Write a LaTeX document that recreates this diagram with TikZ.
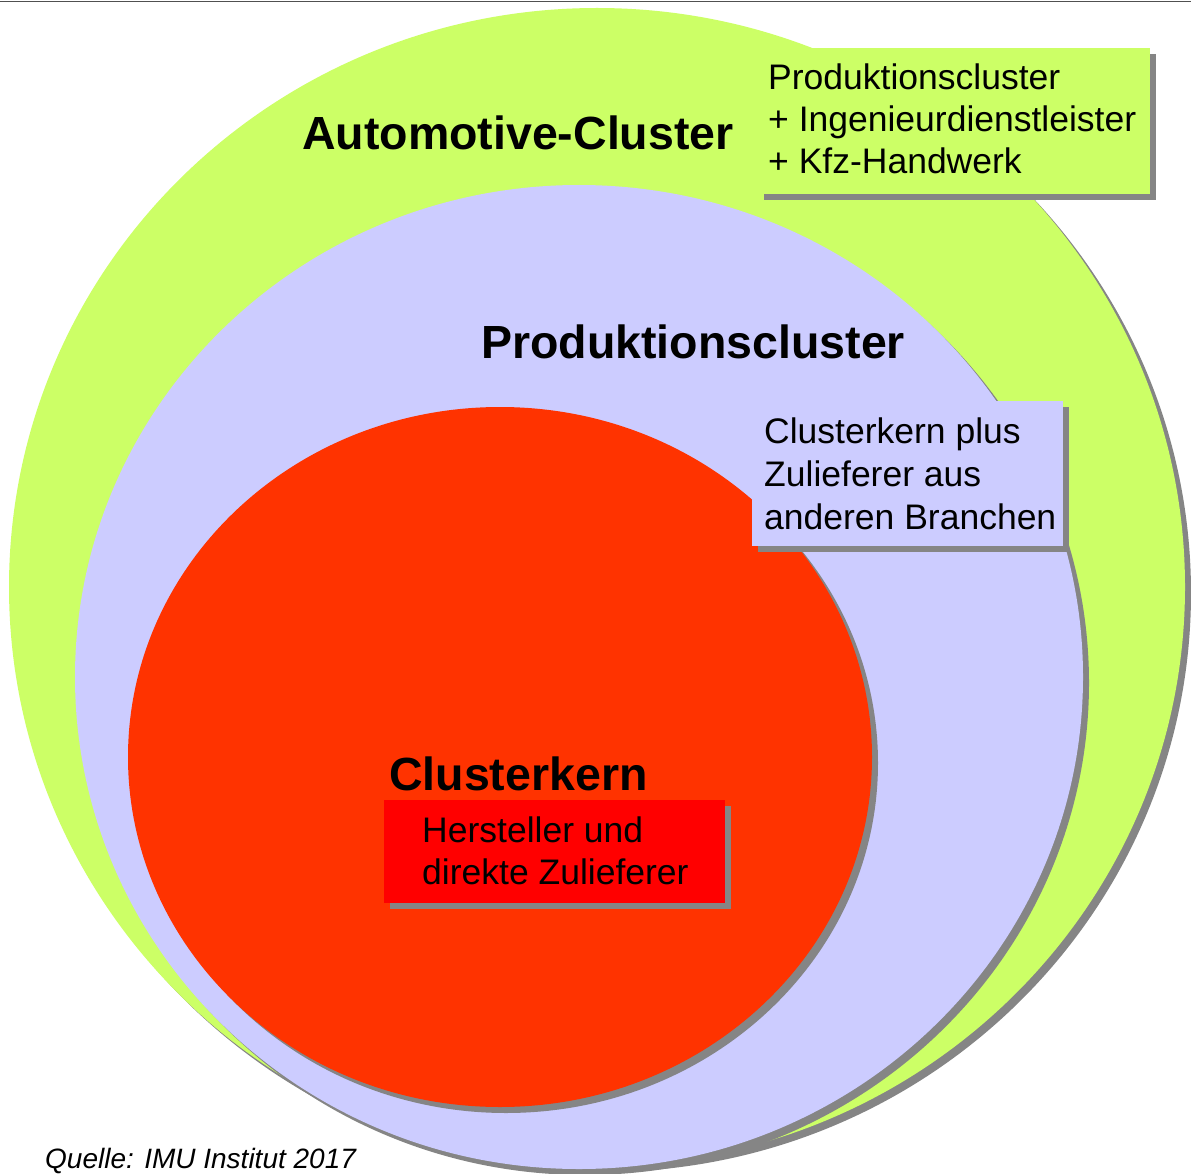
\documentclass[tikz,border=0pt]{standalone}
\usepackage{fontspec}
\setmainfont{Liberation Sans}
\definecolor{cgreen}{HTML}{CCFF66}
\definecolor{clav}{HTML}{CCCCFF}
\definecolor{cred}{HTML}{FF3300}
\definecolor{cbox}{HTML}{FF0000}
\definecolor{cshadow}{HTML}{858585}
\definecolor{cline}{HTML}{505050}
\begin{document}
\begin{tikzpicture}[x=1pt,y=-1pt,
  shadow/.style={fill=cshadow,draw=none},
  txt/.style={anchor=base west,inner sep=0pt,font=\fontsize{35.5}{42.5}\selectfont},
  title/.style={anchor=base west,inner sep=0pt,font=\fontsize{46.5}{50}\selectfont\bfseries},
  src/.style={anchor=base west,inner sep=0pt,font=\fontsize{28}{32}\selectfont\itshape}]
\useasboundingbox (0,0) rectangle (1191,1174);
\fill[white] (0,0) rectangle (1191,1174);
\draw[cline,line width=1.5pt] (0,1.5) -- (1191,1.5);
% rings with shadows
\fill[shadow] (603,593) ellipse [x radius=588, y radius=579];
\fill[cgreen] (597,587) ellipse [x radius=588, y radius=579];
\fill[shadow] (585,683) ellipse [x radius=504, y radius=492];
\fill[clav] (579,677) ellipse [x radius=504, y radius=492];
\fill[shadow] (506,763) ellipse [x radius=372, y radius=350];
\fill[cred] (500,757) ellipse [x radius=372, y radius=350];
% boxes
\fill[shadow] (764,54) rectangle (1156,200);
\fill[cgreen] (758,48) rectangle (1150,194);
\fill[shadow] (758,407) rectangle (1069,552);
\fill[clav] (752,401) rectangle (1063,546);
\fill[shadow] (390,806) rectangle (731,909);
\fill[cbox] (384,800) rectangle (725,903);
% titles
\node[title] (tauto) at (302,150) {Automotive-Cluster};
\node[title] (tprod) at (481,358) {Produktionscluster};
\node[title] (tkern) at (389,790) {Clusterkern};
% box texts
\node[txt] (g1) at (768,90) {Produktionscluster};
\node[txt] (g2) at (768,132) {+ Ingenieurdienstleister};
\node[txt] (g3) at (768,174) {+ Kfz-Handwerk};
\node[txt] (l1) at (764,443) {Clusterkern plus};
\node[txt] (l2) at (764,486) {Zulieferer aus};
\node[txt] (l3) at (764,529) {anderen Branchen};
\node[txt] (r1) at (422,842) {Hersteller und};
\node[txt] (r2) at (422,884) {direkte Zulieferer};
\node[src] (quelle) at (45,1168) {Quelle: IMU Institut 2017};
\end{tikzpicture}
\end{document}
